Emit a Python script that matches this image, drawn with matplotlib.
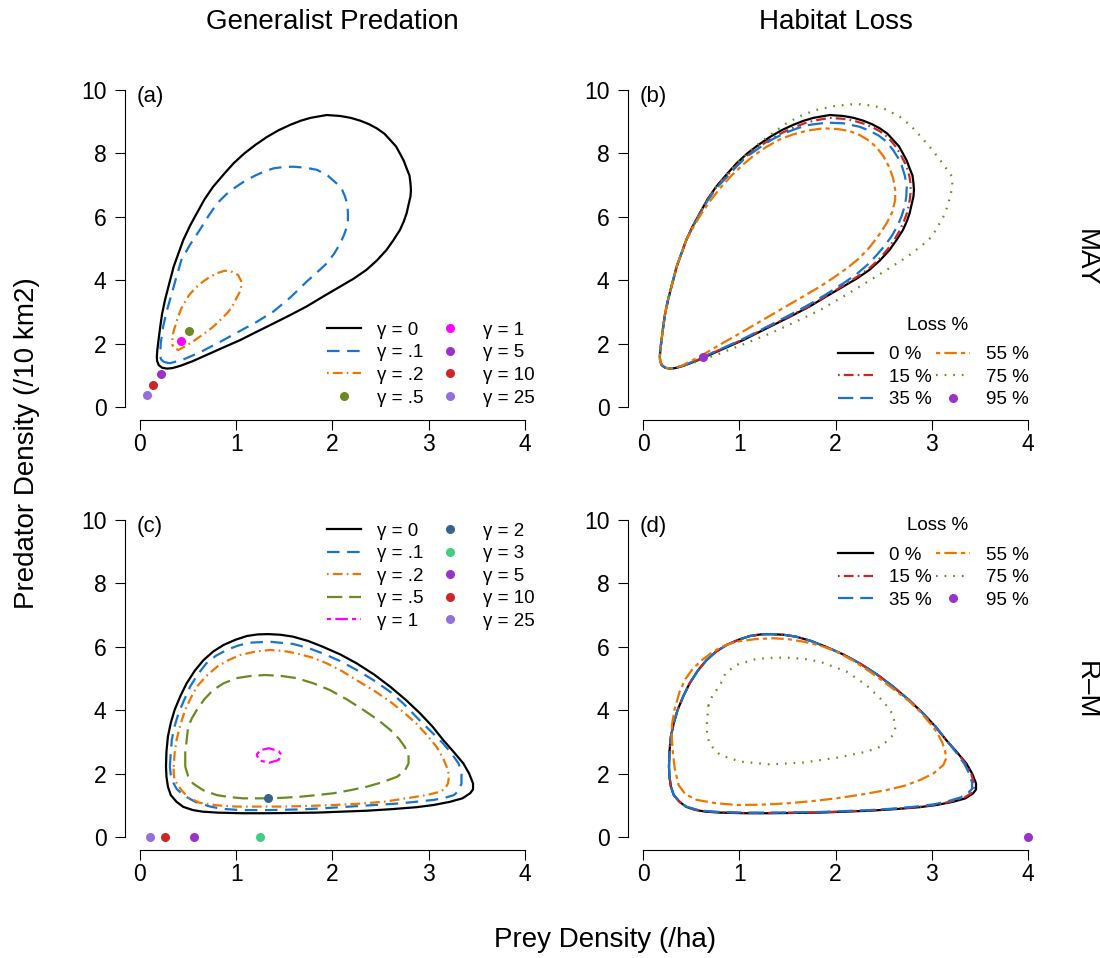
import matplotlib
matplotlib.use("Agg")
import matplotlib.pyplot as plt
from matplotlib.lines import Line2D

plt.rcParams['font.family'] = ['Liberation Sans', 'DejaVu Sans']
plt.rcParams['lines.scale_dashes'] = False

# ---- MAY model: limit cycles (prey /ha, predator /10 km2) ----
# left arc shared by the habitat-loss cycles (from the bottom tip upwards)
may_left_x = [0.28, 0.23, 0.195, 0.178, 0.175, 0.18, 0.19, 0.21, 0.23, 0.26, 0.30, 0.35, 0.40, 0.45]
may_left_y = [1.21, 1.24, 1.32, 1.45, 1.59, 1.80, 2.05, 2.53, 2.95, 3.38, 3.85, 4.43, 4.85, 5.27]

may_rest_x = [0.52, 0.59, 0.67, 0.76, 0.87, 0.97, 1.08, 1.20, 1.32, 1.44, 1.56, 1.67, 1.77, 1.94, 2.08, 2.19,
              2.29, 2.38, 2.46, 2.54, 2.60, 2.66, 2.70, 2.74, 2.77, 2.80, 2.81, 2.815, 2.81, 2.79, 2.77, 2.74,
              2.70, 2.63, 2.56, 2.46, 2.35, 2.22, 2.08, 1.90, 1.73, 1.56, 1.39, 1.21, 1.04, 0.86, 0.69, 0.55,
              0.42, 0.34, 0.28]
may_rest_y = [5.72, 6.11, 6.55, 6.95, 7.34, 7.68, 7.99, 8.27, 8.52, 8.73, 8.90, 9.03, 9.12, 9.21, 9.18, 9.12,
              9.03, 8.92, 8.79, 8.62, 8.42, 8.22, 8.00, 7.77, 7.53, 7.30, 7.06, 6.85, 6.64, 6.38, 6.11, 5.85,
              5.58, 5.25, 4.95, 4.62, 4.32, 4.05, 3.80, 3.48, 3.17, 2.90, 2.64, 2.37, 2.11, 1.87, 1.64, 1.45,
              1.30, 1.23, 1.21]

may_g01_x = [0.31, 0.25, 0.22, 0.21, 0.215, 0.24, 0.28, 0.33, 0.38, 0.43, 0.52, 0.62, 0.71, 0.80, 0.90, 1.00,
             1.10, 1.21, 1.30, 1.39, 1.49, 1.59, 1.72, 1.84, 1.95, 2.04, 2.10, 2.13, 2.155, 2.16, 2.16, 2.15,
             2.12, 2.08, 2.02, 1.94, 1.84, 1.73, 1.56, 1.39, 1.21, 1.04, 0.83, 0.62, 0.45, 0.31]
may_g01_y = [1.38, 1.42, 1.50, 1.59, 2.00, 2.53, 3.05, 3.58, 4.12, 4.64, 5.12, 5.58, 6.02, 6.42, 6.72, 6.95,
             7.15, 7.32, 7.44, 7.53, 7.57, 7.58, 7.55, 7.48, 7.30, 7.06, 6.85, 6.64, 6.38, 6.11, 5.90, 5.69,
             5.43, 5.16, 4.85, 4.53, 4.25, 3.95, 3.45, 3.02, 2.68, 2.40, 2.05, 1.72, 1.50, 1.38]

may_g02_x = [0.336, 0.36, 0.40, 0.48, 0.57, 0.66, 0.76, 0.84, 0.92, 0.97, 1.01, 1.04, 1.05, 1.05, 1.02, 0.96,
             0.88, 0.80, 0.73, 0.67, 0.61, 0.56, 0.51, 0.47, 0.43, 0.40, 0.374, 0.355, 0.34, 0.335, 0.336]
may_g02_y = [1.95, 1.84, 1.80, 1.93, 2.11, 2.30, 2.53, 2.76, 3.01, 3.24, 3.48, 3.65, 3.79, 3.98, 4.16, 4.26,
             4.30, 4.22, 4.11, 3.99, 3.85, 3.70, 3.53, 3.33, 3.11, 2.88, 2.64, 2.45, 2.27, 2.10, 1.95]

# stable equilibria for larger gamma
may_pt_gamma = ['.5', '1', '5', '10', '25']
may_pt_x = [0.51, 0.43, 0.22, 0.14, 0.075]
may_pt_y = [2.41, 2.07, 1.05, 0.71, 0.37]

# habitat loss (MAY): remainder of each cycle after the shared left arc
may_l15_x = [0.52, 0.59, 0.67, 0.76, 0.87, 0.97, 1.08, 1.20, 1.32, 1.44, 1.56, 1.67, 1.77, 1.94, 2.08, 2.19,
             2.29, 2.38, 2.46, 2.53, 2.59, 2.64, 2.68, 2.72, 2.75, 2.77, 2.78, 2.78, 2.775, 2.76, 2.74, 2.71,
             2.67, 2.61, 2.54, 2.45, 2.34, 2.21, 2.08, 1.90, 1.73, 1.56, 1.39, 1.21, 1.04, 0.86, 0.69, 0.55,
             0.42, 0.34, 0.28]
may_l15_y = [5.72, 6.11, 6.54, 6.93, 7.29, 7.62, 7.93, 8.20, 8.44, 8.64, 8.81, 8.94, 9.03, 9.12, 9.09, 9.03,
             8.94, 8.83, 8.70, 8.54, 8.35, 8.15, 7.94, 7.71, 7.48, 7.25, 7.03, 6.82, 6.60, 6.35, 6.10, 5.85,
             5.58, 5.27, 4.97, 4.65, 4.35, 4.08, 3.83, 3.50, 3.19, 2.92, 2.66, 2.39, 2.13, 1.89, 1.66, 1.46,
             1.31, 1.23, 1.21]
may_l35_x = [0.52, 0.59, 0.67, 0.76, 0.87, 0.97, 1.07, 1.21, 1.34, 1.49, 1.61, 1.73, 1.91, 2.08, 2.25, 2.35,
             2.45, 2.53, 2.60, 2.65, 2.69, 2.72, 2.74, 2.735, 2.72, 2.69, 2.65, 2.59, 2.52, 2.43, 2.33, 2.21,
             2.08, 1.90, 1.73, 1.56, 1.39, 1.21, 1.04, 0.86, 0.69, 0.55, 0.42, 0.34, 0.28]
may_l35_y = [5.70, 6.08, 6.50, 6.90, 7.25, 7.58, 7.88, 8.18, 8.44, 8.66, 8.80, 8.90, 8.97, 8.95, 8.84, 8.72,
             8.56, 8.37, 8.10, 7.86, 7.60, 7.30, 6.95, 6.62, 6.35, 6.05, 5.75, 5.42, 5.12, 4.80, 4.48, 4.17,
             3.90, 3.55, 3.24, 2.96, 2.69, 2.41, 2.15, 1.90, 1.67, 1.47, 1.31, 1.23, 1.21]
may_l55_x = [0.52, 0.59, 0.68, 0.80, 0.92, 1.04, 1.15, 1.28, 1.42, 1.56, 1.71, 1.87, 2.02, 2.15, 2.25, 2.35,
             2.43, 2.50, 2.56, 2.60, 2.62, 2.62, 2.59, 2.53, 2.45, 2.36, 2.25, 2.12, 1.98, 1.84, 1.66, 1.49,
             1.32, 1.15, 0.97, 0.80, 0.65, 0.50, 0.40, 0.33, 0.28]
may_l55_y = [5.66, 6.02, 6.43, 6.90, 7.30, 7.65, 7.93, 8.20, 8.44, 8.60, 8.72, 8.79, 8.77, 8.70, 8.58, 8.40,
             8.18, 7.90, 7.55, 7.20, 6.85, 6.53, 6.15, 5.79, 5.42, 5.06, 4.70, 4.38, 4.08, 3.80, 3.48, 3.18,
             2.88, 2.58, 2.26, 1.97, 1.70, 1.45, 1.30, 1.23, 1.21]
may_l75_x = [0.52, 0.59, 0.67, 0.76, 0.87, 0.97, 1.08, 1.20, 1.32, 1.49, 1.65, 1.80, 2.00, 2.22, 2.40, 2.53,
             2.67, 2.78, 2.88, 2.98, 3.06, 3.12, 3.18, 3.21, 3.215, 3.19, 3.16, 3.12, 3.06, 3.00, 2.90, 2.75,
             2.56, 2.36, 2.10, 1.84, 1.58, 1.32, 1.06, 0.80, 0.60, 0.45, 0.34, 0.28]
may_l75_y = [5.72, 6.11, 6.55, 6.95, 7.34, 7.68, 8.00, 8.30, 8.58, 8.95, 9.20, 9.37, 9.50, 9.56, 9.50, 9.38,
             9.15, 8.88, 8.55, 8.20, 7.90, 7.65, 7.40, 7.27, 6.95, 6.63, 6.30, 6.00, 5.68, 5.37, 5.10, 4.75,
             4.38, 4.00, 3.52, 3.06, 2.68, 2.32, 2.00, 1.69, 1.47, 1.33, 1.24, 1.21]
may_l95 = (0.62, 1.59)

# ---- R-M model ----
rm_x = [0.27, 0.275, 0.29, 0.32, 0.36, 0.42, 0.485, 0.57, 0.66, 0.76, 0.87, 0.99, 1.11, 1.22, 1.33, 1.46,
        1.59, 1.75, 1.90, 2.08, 2.25, 2.43, 2.60, 2.76, 2.91, 3.04, 3.15, 3.26, 3.36, 3.42, 3.46, 3.46,
        3.43, 3.35, 3.22, 3.05, 2.87, 2.62, 2.36, 2.10, 1.84, 1.58, 1.32, 1.06, 0.80, 0.65, 0.55, 0.45,
        0.38, 0.32, 0.29, 0.275, 0.27]
rm_y = [2.22, 2.70, 3.17, 3.60, 4.01, 4.45, 4.85, 5.25, 5.58, 5.85, 6.06, 6.22, 6.34, 6.39, 6.40, 6.38,
        6.32, 6.18, 6.00, 5.76, 5.48, 5.13, 4.74, 4.33, 3.90, 3.48, 3.06, 2.68, 2.32, 2.00, 1.69, 1.50,
        1.38, 1.22, 1.11, 1.01, 0.94, 0.88, 0.83, 0.80, 0.77, 0.76, 0.75, 0.75, 0.77, 0.80, 0.85, 0.95,
        1.11, 1.32, 1.59, 1.90, 2.22]

rm_g01_x = [0.31, 0.32, 0.33, 0.36, 0.40, 0.46, 0.52, 0.60, 0.69, 0.79, 0.90, 1.02, 1.14, 1.35, 1.59, 1.75,
            1.90, 2.08, 2.25, 2.43, 2.60, 2.74, 2.87, 3.01, 3.15, 3.24, 3.31, 3.34, 3.34, 3.31, 3.26, 3.16,
            3.05, 2.70, 2.44, 2.18, 1.92, 1.66, 1.35, 1.04, 0.85, 0.73, 0.58, 0.45, 0.38, 0.35, 0.32, 0.31]
rm_g01_y = [2.22, 2.65, 3.06, 3.50, 3.90, 4.33, 4.74, 5.13, 5.48, 5.72, 5.90, 6.04, 6.13, 6.16, 6.09, 5.96,
            5.79, 5.55, 5.27, 4.94, 4.58, 4.20, 3.79, 3.37, 2.95, 2.62, 2.32, 2.00, 1.69, 1.45, 1.32, 1.23,
            1.17, 1.06, 1.01, 0.96, 0.91, 0.87, 0.85, 0.85, 0.89, 0.96, 1.10, 1.32, 1.52, 1.69, 1.95, 2.22]
rm_g02_x = [0.35, 0.36, 0.38, 0.42, 0.47, 0.53, 0.59, 0.69, 0.80, 0.92, 1.04, 1.20, 1.35, 1.49, 1.63, 1.79,
            1.94, 2.10, 2.25, 2.43, 2.60, 2.74, 2.87, 2.98, 3.08, 3.15, 3.20, 3.21, 3.20, 3.17, 3.12, 3.00,
            2.87, 2.70, 2.53, 2.27, 2.01, 1.75, 1.49, 1.24, 1.00, 0.80, 0.62, 0.50, 0.43, 0.39, 0.36, 0.35,
            0.35]
rm_g02_y = [2.22, 2.65, 3.06, 3.55, 4.01, 4.40, 4.74, 5.08, 5.37, 5.58, 5.74, 5.85, 5.90, 5.87, 5.79, 5.66,
            5.48, 5.23, 4.95, 4.62, 4.27, 3.93, 3.58, 3.22, 2.85, 2.48, 2.11, 1.90, 1.69, 1.53, 1.43, 1.34,
            1.27, 1.19, 1.11, 1.05, 1.01, 0.98, 0.96, 0.96, 0.96, 1.00, 1.08, 1.25, 1.48, 1.65, 1.80, 2.00,
            2.22]
rm_g05_x = [0.47, 0.47, 0.485, 0.50, 0.54, 0.59, 0.67, 0.76, 0.87, 1.00, 1.15, 1.30, 1.47, 1.63, 1.80, 1.97,
            2.15, 2.32, 2.47, 2.60, 2.69, 2.75, 2.79, 2.79, 2.75, 2.67, 2.52, 2.36, 2.19, 2.01, 1.83, 1.66,
            1.50, 1.35, 1.20, 1.07, 0.93, 0.80, 0.66, 0.55, 0.50, 0.47]
rm_g05_y = [2.22, 2.65, 3.06, 3.48, 3.75, 4.01, 4.35, 4.64, 4.85, 5.01, 5.08, 5.11, 5.08, 5.01, 4.85, 4.64,
            4.34, 4.01, 3.70, 3.38, 3.10, 2.85, 2.58, 2.32, 2.08, 1.90, 1.73, 1.59, 1.48, 1.38, 1.32, 1.27,
            1.24, 1.22, 1.22, 1.22, 1.26, 1.32, 1.47, 1.69, 1.92, 2.22]
rm_g1_x = [1.21, 1.25, 1.34, 1.44, 1.47, 1.44, 1.34, 1.25, 1.21]
rm_g1_y = [2.59, 2.74, 2.80, 2.71, 2.59, 2.43, 2.34, 2.41, 2.59]

rm_pt_gamma = ['2', '3', '5', '10', '25']
rm_pt_x = [1.33, 1.25, 0.56, 0.26, 0.10]
rm_pt_y = [1.24, 0.0, 0.0, 0.0, 0.0]

# habitat loss (R-M): 15 % and 35 % differ from the baseline only in the right corner
rm_l15_x = [0.27, 0.275, 0.29, 0.32, 0.36, 0.42, 0.485, 0.57, 0.66, 0.76, 0.87, 0.99, 1.11, 1.22, 1.33, 1.46,
            1.59, 1.75, 1.90, 2.08, 2.25, 2.43, 2.60, 2.76, 2.91, 3.04, 3.15, 3.26, 3.35, 3.41, 3.44, 3.44,
            3.41, 3.33, 3.20, 3.05, 2.87, 2.62, 2.36, 2.10, 1.84, 1.58, 1.32, 1.06, 0.80, 0.65, 0.55, 0.45,
            0.38, 0.32, 0.29, 0.275, 0.27]
rm_l15_y = [2.22, 2.70, 3.17, 3.60, 4.01, 4.45, 4.85, 5.25, 5.58, 5.85, 6.06, 6.22, 6.34, 6.39, 6.40, 6.38,
            6.32, 6.18, 6.00, 5.76, 5.48, 5.13, 4.74, 4.33, 3.90, 3.48, 3.06, 2.68, 2.32, 2.00, 1.69, 1.50,
            1.38, 1.23, 1.12, 1.02, 0.95, 0.89, 0.84, 0.81, 0.78, 0.77, 0.76, 0.76, 0.78, 0.81, 0.86, 0.95,
            1.11, 1.32, 1.59, 1.90, 2.22]
rm_l35_x = [0.27, 0.275, 0.29, 0.32, 0.36, 0.42, 0.485, 0.57, 0.66, 0.76, 0.87, 0.99, 1.11, 1.22, 1.33, 1.46,
            1.59, 1.75, 1.90, 2.08, 2.25, 2.43, 2.60, 2.76, 2.91, 3.04, 3.15, 3.25, 3.34, 3.39, 3.42, 3.42,
            3.38, 3.30, 3.18, 3.04, 2.87, 2.62, 2.36, 2.10, 1.84, 1.58, 1.32, 1.06, 0.80, 0.65, 0.55, 0.45,
            0.38, 0.32, 0.29, 0.275, 0.27]
rm_l35_y = [2.22, 2.70, 3.17, 3.60, 4.01, 4.45, 4.85, 5.25, 5.58, 5.85, 6.06, 6.22, 6.34, 6.39, 6.40, 6.38,
            6.32, 6.18, 6.00, 5.76, 5.48, 5.13, 4.74, 4.33, 3.90, 3.48, 3.06, 2.68, 2.30, 2.00, 1.69, 1.52,
            1.40, 1.25, 1.14, 1.04, 0.97, 0.90, 0.85, 0.82, 0.79, 0.78, 0.77, 0.77, 0.79, 0.82, 0.87, 0.96,
            1.11, 1.32, 1.59, 1.90, 2.22]
rm_l55_x = [0.30, 0.30, 0.31, 0.33, 0.37, 0.44, 0.56, 0.75, 0.97, 1.23, 1.49, 1.75, 2.01, 2.27, 2.53, 2.72,
            2.88, 3.02, 3.12, 3.15, 3.14, 3.11, 3.05, 2.97, 2.88, 2.77, 2.64, 2.50, 2.36, 2.19, 2.01, 1.84,
            1.67, 1.51, 1.35, 1.16, 0.97, 0.84, 0.73, 0.62, 0.52, 0.44, 0.38, 0.33, 0.30]
rm_l55_y = [3.53, 3.10, 2.69, 2.15, 1.64, 1.35, 1.17, 1.07, 1.01, 1.02, 1.06, 1.13, 1.22, 1.34, 1.48, 1.62,
            1.80, 2.01, 2.27, 2.48, 2.69, 2.98, 3.32, 3.63, 3.95, 4.27, 4.58, 4.90, 5.21, 5.55, 5.85, 6.04,
            6.16, 6.24, 6.27, 6.24, 6.16, 6.03, 5.85, 5.60, 5.32, 4.98, 4.58, 4.05, 3.53]
rm_l75_x = [0.68, 0.66, 0.67, 0.70, 0.80, 1.01, 1.32, 1.67, 2.01, 2.32, 2.45, 2.53, 2.60, 2.62, 2.60, 2.50,
            2.32, 2.12, 1.84, 1.67, 1.49, 1.33, 1.18, 0.97, 0.86, 0.80, 0.72, 0.68]
rm_l75_y = [4.16, 3.48, 3.15, 2.90, 2.59, 2.38, 2.29, 2.35, 2.50, 2.69, 2.83, 3.01, 3.22, 3.43, 3.85, 4.27,
            4.79, 5.21, 5.53, 5.62, 5.66, 5.65, 5.62, 5.43, 5.18, 4.79, 4.45, 4.16]
rm_l95 = (4.0, 0.0)

# ---- styles ----
BLACK = 'black'
BLUE = '#1874CD'
ORANGE = '#EE7600'
OLIVE = '#698B22'
MAGENTA = '#FF00FF'
RED = '#CD2626'
PURPLE = '#9932CC'
LAVENDER = '#9370DB'
STEEL = '#36648B'
SEA = '#43CD80'

DASHED = (0, (9, 5.5))
DOTDASH = (0, (1.2, 3, 7, 3))
LONGDASH = (0, (11, 5))
TWODASH = (0, (3, 3, 9, 3))
DOTTED = (0, (1.2, 5))
LW = 1.6
FS = 13.5      # legend text
TICK_FS = 16.5
LAB_FS = 20
MS = 6.5

gamma_colors_may = [OLIVE, MAGENTA, PURPLE, RED, LAVENDER]
gamma_colors_rm = [STEEL, SEA, PURPLE, RED, LAVENDER]
loss_labels = ['0 %', '15 %', '35 %', '55 %', '75 %', '95 %']

fig = plt.figure(figsize=(11, 9.58), dpi=100)
W, H = 1100, 958


def make_ax(left_px, top_px):
    ax = fig.add_axes([left_px / W, 1 - (top_px + 342.4) / H, 415.8 / W, 342.4 / H])
    ax.set_xlim(-0.16, 4.16)
    ax.set_ylim(-0.4, 10.4)
    for s in ['top', 'right']:
        ax.spines[s].set_visible(False)
    ax.spines['left'].set_bounds(0, 10)
    ax.spines['bottom'].set_bounds(0, 4)
    ax.spines['left'].set_linewidth(0.8)
    ax.spines['bottom'].set_linewidth(0.8)
    ax.set_xticks([0, 1, 2, 3, 4])
    ax.set_yticks([0, 2, 4, 6, 8, 10])
    ax.tick_params(axis='both', direction='out', length=7, width=0.8, labelsize=TICK_FS)
    ax.tick_params(axis='x', pad=2.5)
    ax.tick_params(axis='y', pad=6)
    ax.patch.set_alpha(0)
    return ax


def line(ax, x, y, color, ls):
    ax.plot(x, y, color=color, ls=ls, lw=LW, solid_capstyle='butt', dash_capstyle='butt',
            solid_joinstyle='round')
    return Line2D([], [], color=color, ls=ls, lw=LW)


def dot(color):
    return Line2D([], [], color=color, ls='none', marker='o', ms=MS, mec='none')


def add_legend(ax, handles, labels, x0, y0, colsp):
    ax.legend(handles, labels, ncol=2, loc='upper left', bbox_to_anchor=(x0, y0), bbox_transform=ax.transData,
              frameon=False, fontsize=FS, handlelength=1.85, handletextpad=0.85, columnspacing=colsp,
              labelspacing=0.29, borderpad=0, borderaxespad=0)


ax_a = make_ax(124.6, 77.3)
ax_b = make_ax(627.6, 77.3)
ax_c = make_ax(124.6, 507.3)
ax_d = make_ax(627.6, 507.3)

# (a) generalist predation, MAY
h = [line(ax_a, may_left_x + may_rest_x, may_left_y + may_rest_y, BLACK, '-'),
     line(ax_a, may_g01_x, may_g01_y, BLUE, DASHED),
     line(ax_a, may_g02_x, may_g02_y, ORANGE, DOTDASH)]
for xi, yi, c in zip(may_pt_x, may_pt_y, gamma_colors_may):
    ax_a.plot(xi, yi, 'o', color=c, ms=MS, mec='none')
h += [dot(c) for c in gamma_colors_may]
labels = ['γ = 0', 'γ = .1', 'γ = .2'] + ['γ = ' + g for g in may_pt_gamma]
add_legend(ax_a, h, labels, 1.94, 2.69, 0.45)

# (b) habitat loss, MAY
h = [line(ax_b, may_left_x + may_rest_x, may_left_y + may_rest_y, BLACK, '-'),
     line(ax_b, may_left_x + may_l15_x, may_left_y + may_l15_y, RED, DOTDASH),
     line(ax_b, may_left_x + may_l35_x, may_left_y + may_l35_y, BLUE, LONGDASH),
     line(ax_b, may_left_x + may_l55_x, may_left_y + may_l55_y, ORANGE, TWODASH),
     line(ax_b, may_left_x + may_l75_x, may_left_y + may_l75_y, OLIVE, DOTTED)]
ax_b.plot(*may_l95, 'o', color=PURPLE, ms=MS, mec='none')
h.append(dot(PURPLE))
add_legend(ax_b, h, loss_labels, 2.03, 1.92, 0.2)
ax_b.text(3.065, 2.58, 'Loss %', fontsize=FS, ha='center', va='center')

# (c) generalist predation, R-M
h = [line(ax_c, rm_x, rm_y, BLACK, '-'),
     line(ax_c, rm_g01_x, rm_g01_y, BLUE, DASHED),
     line(ax_c, rm_g02_x, rm_g02_y, ORANGE, DOTDASH),
     line(ax_c, rm_g05_x, rm_g05_y, OLIVE, LONGDASH),
     line(ax_c, rm_g1_x, rm_g1_y, MAGENTA, TWODASH)]
for xi, yi, c in zip(rm_pt_x, rm_pt_y, gamma_colors_rm):
    ax_c.plot(xi, yi, 'o', color=c, ms=MS, mec='none', clip_on=False)
h += [dot(c) for c in gamma_colors_rm]
labels = ['γ = 0', 'γ = .1', 'γ = .2', 'γ = .5', 'γ = 1'] + ['γ = ' + g for g in rm_pt_gamma]
add_legend(ax_c, h, labels, 1.94, 9.92, 0.45)

# (d) habitat loss, R-M
h = [line(ax_d, rm_x, rm_y, BLACK, '-'),
     line(ax_d, rm_l15_x, rm_l15_y, RED, DOTDASH),
     line(ax_d, rm_l35_x, rm_l35_y, BLUE, LONGDASH),
     line(ax_d, rm_l55_x, rm_l55_y, ORANGE, TWODASH),
     line(ax_d, rm_l75_x, rm_l75_y, OLIVE, DOTTED)]
ax_d.plot(*rm_l95, 'o', color=PURPLE, ms=MS, mec='none', clip_on=False)
h.append(dot(PURPLE))
add_legend(ax_d, h, loss_labels, 2.03, 9.16, 0.2)
ax_d.text(3.065, 9.84, 'Loss %', fontsize=FS, ha='center', va='center')

for ax, tag in zip([ax_a, ax_b, ax_c, ax_d], ['(a)', '(b)', '(c)', '(d)']):
    ax.text(-0.04, 9.8, tag, fontsize=16, ha='left', va='center')

fig.text(332 / W, 1 - 22 / H, 'Generalist Predation', fontsize=LAB_FS, ha='center', va='center')
fig.text(836 / W, 1 - 22 / H, 'Habitat Loss', fontsize=LAB_FS, ha='center', va='center')
fig.text(27 / W, 1 - 443 / H, 'Predator Density (/10 km2)', fontsize=LAB_FS, rotation=90,
         ha='center', va='center')
fig.text(605 / W, 1 - 940 / H, 'Prey Density (/ha)', fontsize=LAB_FS, ha='center', va='center')
fig.text(1086 / W, 1 - 258 / H, 'MAY', fontsize=LAB_FS, rotation=270, ha='center', va='center')
fig.text(1086 / W, 1 - 690 / H, 'R\u2013M', fontsize=LAB_FS, rotation=270, ha='center', va='center')

fig.savefig('out.png', dpi=100)
